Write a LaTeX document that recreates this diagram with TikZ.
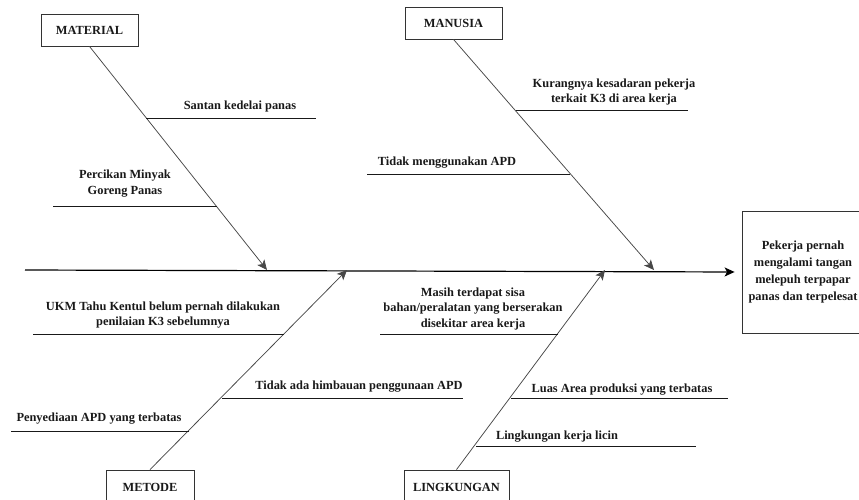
\documentclass[tikz,border=0pt]{standalone}
\usepackage{fontspec}
\setmainfont{Liberation Serif}
\usetikzlibrary{arrows.meta}
\begin{document}
\begin{tikzpicture}[x=1pt,y=-1pt,
  lbl/.style={font=\fontsize{12.4}{15.5}\selectfont\bfseries, align=center, inner sep=0pt, text=black!90},
  catbox/.style={draw=black!80, line width=0.8pt, font=\fontsize{12.4}{15}\selectfont\bfseries, text=black!90, inner sep=0pt, minimum height=32pt},
  bone/.style={draw=black!72, line width=0.75pt},
  sub/.style={draw=black!90, line width=0.85pt},
  tip/.style={-{Stealth[length=10pt,width=9pt,inset=2.5pt]}}
]
\useasboundingbox (0,0) rectangle (859,499);
\clip (0,0) rectangle (859,499);

% category boxes
\node[catbox, minimum width=97pt] (mat) at (89.5,30) {MATERIAL};
\node[catbox, minimum width=97pt] (man) at (453.5,23) {MANUSIA};
\node[catbox, minimum width=88pt, minimum height=34pt] (met) at (150,487) {METODE};
\node[catbox, minimum width=105pt, minimum height=34pt] (lin) at (456.5,487) {LINGKUNGAN};
\node[catbox, minimum width=122pt, minimum height=122pt, align=center,
      font=\fontsize{12.4}{17}\selectfont\bfseries] (res) at (803,272)
      {Pekerja pernah\\mengalami tangan\\melepuh terpapar\\panas dan terpelesat};

% spine
\coordinate (sp0) at (25,270);
\draw[tip, draw=black, line width=1.2pt, shorten >=7pt] (sp0) -- (res.west);

% bone tips on spine
\coordinate (tMat) at (267,270);
\coordinate (tMan) at (654,270);
\coordinate (tMet) at (347,270);
\coordinate (tLin) at (605,270);

\draw[bone, tip] (mat.south) -- (tMat);
\draw[bone, tip] (man.south) -- (tMan);
\draw[bone, tip] (met.north) -- (tMet);
\draw[bone, tip] (lin.north) -- (tLin);

% sub-bone coordinates
\coordinate (a1) at (146,118);  \coordinate (a1e) at (316,118);
\coordinate (a2) at (217,206);  \coordinate (a2e) at (53,206);
\coordinate (b1) at (516,110);  \coordinate (b1e) at (688,110);
\coordinate (b2) at (570,174);  \coordinate (b2e) at (367,174);
\coordinate (c1) at (284,334);  \coordinate (c1e) at (33,334);
\coordinate (c2) at (222,398);  \coordinate (c2e) at (463,398);
\coordinate (c3) at (189,431);  \coordinate (c3e) at (11,431);
\coordinate (d1) at (558,334);  \coordinate (d1e) at (380,334);
\coordinate (d2) at (511,398);  \coordinate (d2e) at (728,398);
\coordinate (d3) at (476,446);  \coordinate (d3e) at (696,446);

\foreach \p in {a1,a2,b1,b2,c1,c2,c3,d1,d2,d3}{\draw[sub] (\p) -- (\p e);}

% labels
\node[lbl] (la1) at (240,107) {Santan kedelai panas};
\node[lbl] (la2) at (125,183.5) {Percikan Minyak\\Goreng Panas};
\node[lbl] (lb1) at (614,92) {Kurangnya kesadaran pekerja\\terkait K3 di area kerja};
\node[lbl] (lb2) at (447,163) {Tidak menggunakan APD};
\node[lbl] (lc1) at (163,315) {UKM Tahu Kentul belum pernah dilakukan\\penilaian K3 sebelumnya};
\node[lbl] (lc2) at (359,387) {Tidak ada himbauan penggunaan APD};
\node[lbl] (lc3) at (99,419) {Penyediaan APD yang terbatas};
\node[lbl] (ld1) at (473,309) {Masih terdapat sisa\\bahan/peralatan yang berserakan\\disekitar area kerja};
\node[lbl] (ld2) at (622,390) {Luas Area produksi yang terbatas};
\node[lbl] (ld3) at (557,437) {Lingkungan kerja licin};
\end{tikzpicture}
\end{document}
